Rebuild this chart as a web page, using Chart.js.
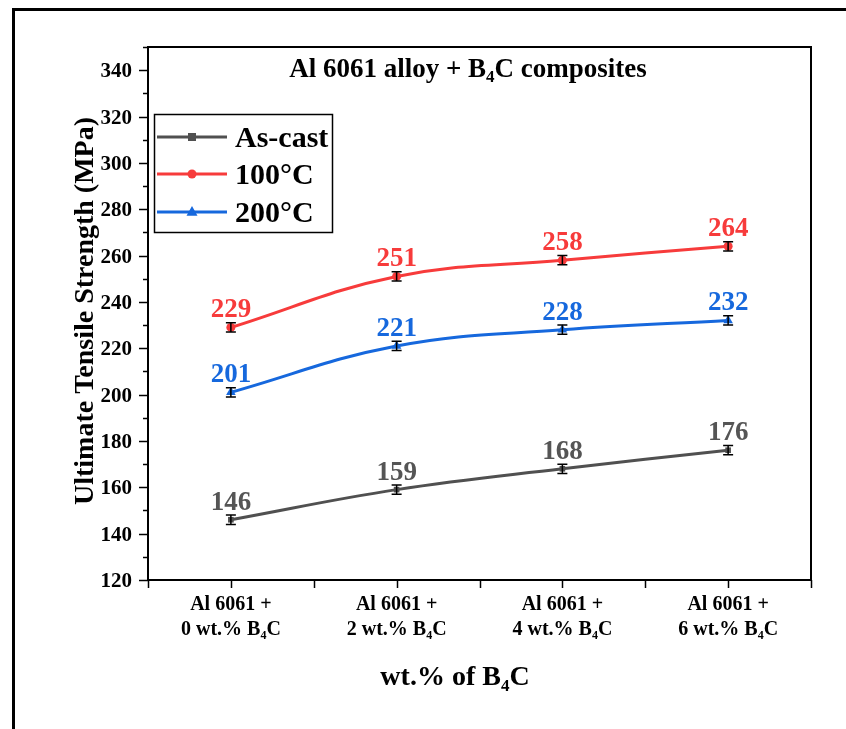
<!DOCTYPE html>
<html>
<head>
<meta charset="utf-8">
<script src="https://cdn.jsdelivr.net/npm/chart.js@4.4.0/dist/chart.umd.min.js"></script>
<style>
  html, body { margin: 0; padding: 0; background: #fff; }
</style>
</head>
<body>
<canvas id="chart" width="846" height="729"></canvas>
<script>
// Data
const positions = [0, 1, 2, 3];
const b4cContent = ['0', '2', '4', '6'];
const asCast = [146, 159, 168, 176];
const temp100 = [229, 251, 258, 264];
const temp200 = [201, 221, 228, 232];
const errAsCast = [2, 2, 2, 2];
const err100 = [2, 2, 2, 2];
const err200 = [2, 2, 2, 2];
const yLabelTicks = [120, 140, 160, 180, 200, 220, 240, 260, 280, 300, 320, 340];

const SERIF = '"Liberation Serif", "Times New Roman", serif';
const COLORS = {
  asCast: '#505050',
  t100: '#f73b3b',
  t200: '#1668dd'
};

// Draw text where "_4" means a subscript 4
function richText(ctx, str, x, y, size, align) {
  const parts = str.split(/(_\d)/).filter(s => s);
  const pieces = parts.map(p => p[0] === '_'
    ? { text: p.slice(1), sub: true }
    : { text: p, sub: false });
  let total = 0;
  pieces.forEach(p => {
    ctx.font = `bold ${p.sub ? Math.round(size * 0.62) : size}px ${SERIF}`;
    p.w = ctx.measureText(p.text).width;
    total += p.w;
  });
  let cx = align === 'center' ? x - total / 2 : (align === 'right' ? x - total : x);
  ctx.textAlign = 'left';
  pieces.forEach(p => {
    ctx.font = `bold ${p.sub ? Math.round(size * 0.62) : size}px ${SERIF}`;
    ctx.fillText(p.text, cx, p.sub ? y + size * 0.2 : y);
    cx += p.w;
  });
}

const toPoints = (vals) => vals.map((v, i) => ({ x: positions[i], y: v }));

const series = [
  { label: 'As-cast', data: asCast, err: errAsCast, color: COLORS.asCast, style: 'rect', radius: 4 },
  { label: '100°C', data: temp100, err: err100, color: COLORS.t100, style: 'circle', radius: 4.5 },
  { label: '200°C', data: temp200, err: err200, color: COLORS.t200, style: 'triangle', radius: 5.5 }
];

const decorPlugin = {
  id: 'decor',
  beforeDraw(chart) {
    const ctx = chart.ctx;
    ctx.save();
    ctx.fillStyle = '#fff';
    ctx.fillRect(0, 0, chart.width, chart.height);
    // outer frame (top and left edges)
    ctx.strokeStyle = '#000';
    ctx.lineWidth = 3;
    ctx.beginPath();
    ctx.moveTo(13.5, 729);
    ctx.lineTo(13.5, 9.5);
    ctx.lineTo(846, 9.5);
    ctx.stroke();
    ctx.restore();
  },
  afterDraw(chart) {
    const ctx = chart.ctx;
    const { left, right, top, bottom } = chart.chartArea;
    const xs = chart.scales.x, ys = chart.scales.y;
    ctx.save();
    // plot frame
    ctx.strokeStyle = '#000';
    ctx.lineWidth = 2;
    ctx.strokeRect(left, top, right - left, bottom - top);

    // y ticks (major every 20, minor every 10)
    ctx.lineWidth = 1.5;
    for (let v = 120; v <= 350; v += 10) {
      const py = Math.round(ys.getPixelForValue(v)) + 0.5;
      const len = v % 20 === 0 ? 9 : 5;
      ctx.beginPath();
      ctx.moveTo(left - len, py);
      ctx.lineTo(left, py);
      ctx.stroke();
    }
    // x ticks
    for (let v = -0.5; v <= 3.5; v += 0.5) {
      const px = Math.round(xs.getPixelForValue(v)) + 0.5;
      ctx.beginPath();
      ctx.moveTo(px, bottom);
      ctx.lineTo(px, bottom + 8);
      ctx.stroke();
    }

    // y tick labels
    ctx.fillStyle = '#000';
    ctx.textBaseline = 'alphabetic';
    yLabelTicks.forEach(v => {
      const py = ys.getPixelForValue(v);
      richText(ctx, String(v), left - 16, py + 7, 21, 'right');
    });

    // x tick labels
    positions.forEach((p, i) => {
      const px = xs.getPixelForValue(p);
      richText(ctx, 'Al 6061 +', px, 610, 20, 'center');
      richText(ctx, `${b4cContent[i]} wt.% B_4C`, px, 635, 20, 'center');
    });

    // axis titles
    richText(ctx, 'wt.% of B_4C', 455, 685, 28, 'center');
    ctx.save();
    ctx.translate(93, 311);
    ctx.rotate(-Math.PI / 2);
    richText(ctx, 'Ultimate Tensile Strength (MPa)', 0, 0, 28, 'center');
    ctx.restore();

    // chart title inside the plot
    richText(ctx, 'Al 6061 alloy + B_4C composites', 468, 77, 27, 'center');

    // legend box
    ctx.lineWidth = 1.5;
    ctx.strokeRect(154.5, 114.5, 178, 118);
    const rows = [137, 174, 212];
    series.forEach((s, i) => {
      const y = rows[i];
      ctx.strokeStyle = s.color;
      ctx.lineWidth = 3;
      ctx.beginPath();
      ctx.moveTo(157, y);
      ctx.lineTo(227, y);
      ctx.stroke();
      drawMarker(ctx, s.style, 192, y, s.radius, s.color);
      ctx.fillStyle = '#000';
      richText(ctx, s.label, 235, y + 10, 30, 'left');
    });
    ctx.restore();
  },
  afterDatasetsDraw(chart) {
    const ctx = chart.ctx;
    const xs = chart.scales.x, ys = chart.scales.y;
    ctx.save();
    series.forEach(s => {
      s.data.forEach((v, i) => {
        const px = xs.getPixelForValue(positions[i]);
        const pTop = ys.getPixelForValue(v + s.err[i]);
        const pBot = ys.getPixelForValue(v - s.err[i]);
        ctx.strokeStyle = '#000';
        ctx.lineWidth = 1.5;
        ctx.beginPath();
        ctx.moveTo(px, pTop); ctx.lineTo(px, pBot);
        ctx.moveTo(px - 5, pTop); ctx.lineTo(px + 5, pTop);
        ctx.moveTo(px - 5, pBot); ctx.lineTo(px + 5, pBot);
        ctx.stroke();
        // value label
        ctx.fillStyle = s.color === COLORS.asCast ? '#555' : s.color;
        richText(ctx, String(v), px, ys.getPixelForValue(v) - 10, 27, 'center');
      });
    });
    ctx.restore();
  }
};

function drawMarker(ctx, style, x, y, r, color) {
  ctx.save();
  ctx.fillStyle = color;
  ctx.beginPath();
  if (style === 'rect') {
    ctx.rect(x - r, y - r, 2 * r, 2 * r);
  } else if (style === 'circle') {
    ctx.arc(x, y, r, 0, Math.PI * 2);
  } else {
    ctx.moveTo(x, y - r * 1.1);
    ctx.lineTo(x + r, y + r * 0.7);
    ctx.lineTo(x - r, y + r * 0.7);
    ctx.closePath();
  }
  ctx.fill();
  ctx.restore();
}

new Chart(document.getElementById('chart'), {
  type: 'line',
  data: {
    datasets: series.map(s => ({
      label: s.label,
      data: toPoints(s.data),
      borderColor: s.color,
      backgroundColor: s.color,
      borderWidth: 3,
      pointStyle: s.style,
      pointRadius: s.radius,
      pointBorderWidth: 0,
      tension: 0.4,
      fill: false
    }))
  },
  options: {
    responsive: false,
    animation: false,
    layout: { padding: { left: 0, top: 47, right: 35, bottom: 0 } },
    plugins: {
      legend: { display: false },
      title: { display: false },
      tooltip: { enabled: false }
    },
    scales: {
      x: {
        type: 'linear',
        min: -0.5,
        max: 3.5,
        grid: { display: false },
        border: { display: false },
        ticks: { display: false },
        afterFit: (scale) => { scale.height = 149; }
      },
      y: {
        min: 120,
        max: 350,
        grid: { display: false },
        border: { display: false },
        ticks: { display: false },
        afterFit: (scale) => { scale.width = 148; }
      }
    }
  },
  plugins: [decorPlugin]
});
</script>
</body>
</html>
